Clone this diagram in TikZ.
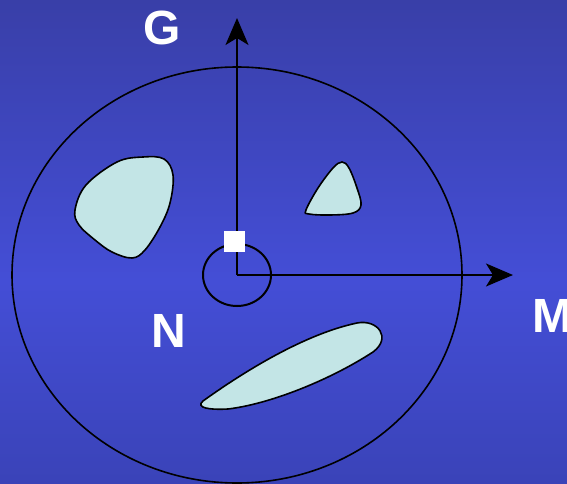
\documentclass[tikz,border=0pt]{standalone}
\usepackage{fontspec}
\setmainfont{Liberation Sans}
\usetikzlibrary{arrows.meta,shapes.geometric}
\definecolor{SlideTop}{RGB}{57,63,168}
\definecolor{SlideMid}{RGB}{68,78,214}
\definecolor{SlideBottom}{RGB}{58,67,184}
\definecolor{BlobCyan}{HTML}{C3E5E6}
\pgfdeclareverticalshading{slidebg}{100bp}{color(0bp)=(SlideBottom); color(25bp)=(SlideBottom); color(46bp)=(SlideMid); color(75bp)=(SlideTop); color(100bp)=(SlideTop)}

\begin{document}
\begin{tikzpicture}[x=1pt,y=-1pt,
    axis/.style={line width=2pt,-{Stealth[length=27pt,width=23pt,inset=7pt]}},
    blob/.style={fill=BlobCyan,draw=black,line width=1.6pt},
    letter/.style={text=white,inner sep=0pt,font=\fontsize{48}{56}\selectfont\bfseries}
  ]
  \useasboundingbox (0,0) rectangle (567,484);
  \shade[shading=slidebg] (0,0) rectangle (567,484);

  \coordinate (o) at (237,275);
  \coordinate (gtip) at (237,18);
  \coordinate (mtip) at (513,275);

  % region
  \draw[line width=1.6pt] (o) ellipse [x radius=225, y radius=208];

  % obstacles
  \draw[blob] plot[smooth cycle,tension=0.6] coordinates {(75,210) (86,185) (117,162) (143,157) (164,159) (173,175) (170,203) (160,227) (145,250) (132,258) (112,252) (95,240) (79,225)};
  \draw[blob] plot[smooth cycle,tension=0.6] coordinates {(306,210) (318,188) (333,168) (342,162) (349,168) (357,188) (361,205) (353,213) (330,215) (309,214)};
  \draw[blob] (203,401) .. controls (235,378) and (300,335) .. (357,323)
    .. controls (378,319) and (392,338) .. (373,352)
    .. controls (330,380) and (270,404) .. (228,409)
    .. controls (210,410) and (195,408) .. cycle;

  \draw[axis] (o) -- (gtip);
  \draw[axis] (o) -- (mtip);

  \node[draw,ellipse,line width=2pt,inner sep=0pt,minimum width=68pt,minimum height=62pt] (hole) at (o) {};
  \node[fill=white,inner sep=0pt,minimum size=21pt] (mark) at (234,241) {};

  \node[letter] (glabel) at (162,28) {G};
  \node[letter] (nlabel) at (169,331) {N};
  \node[letter,anchor=west] (mlabel) at (532,316) {M};
\end{tikzpicture}
\end{document}
